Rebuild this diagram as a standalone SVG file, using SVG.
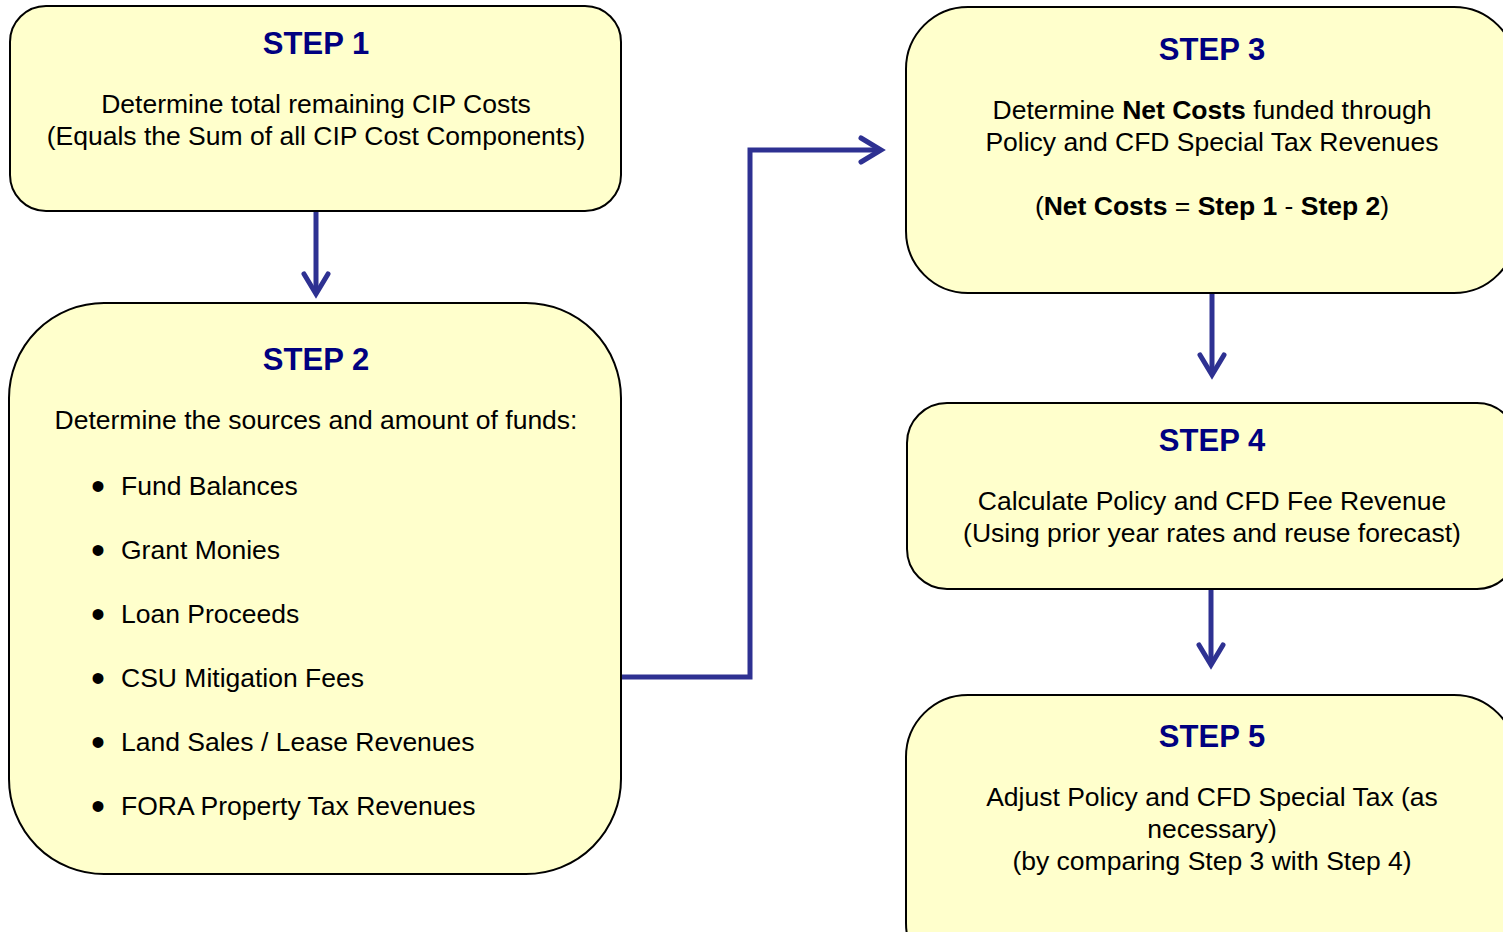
<svg xmlns="http://www.w3.org/2000/svg" width="1503" height="932" viewBox="0 0 1503 932">
<defs>
<style>
.box{fill:#FFFFCC;stroke:#000;stroke-width:2}
.title{font-family:"Liberation Sans",Arial,sans-serif;font-weight:bold;font-size:31px;fill:#000080;text-anchor:middle}
.t{font-family:"Liberation Sans",Arial,sans-serif;font-size:26.5px;fill:#000;text-anchor:middle}
.li{font-family:"Liberation Sans",Arial,sans-serif;font-size:26.5px;fill:#000}
.bul{font-family:"Liberation Sans",Arial,sans-serif;font-size:40px;fill:#000;text-anchor:middle}
.b{font-weight:bold}
.conn{fill:none;stroke:#2E3192;stroke-width:5;stroke-linejoin:miter}
.head{fill:none;stroke:#2E3192;stroke-width:5;stroke-linecap:round;stroke-linejoin:miter}
</style>
<marker id="arrow" markerUnits="userSpaceOnUse" markerWidth="40" markerHeight="40" viewBox="-30 -20 40 40" refX="0" refY="0" orient="auto" overflow="visible">
<path class="head" d="M -20 -12 L 0 0 L -20 12"/>
</marker>
</defs>
<g id="connectors">
<path class="conn" d="M 316 212 L 316 294" marker-end="url(#arrow)"/>
<path class="conn" d="M 622 677 L 750 677 L 750 150 L 881 150" marker-end="url(#arrow)"/>
<path class="conn" d="M 1212 294 L 1212 375" marker-end="url(#arrow)"/>
<path class="conn" d="M 1211 590 L 1211 665" marker-end="url(#arrow)"/>
</g>
<g id="step1">
<rect class="box" x="10" y="6" width="611" height="205" rx="36" ry="36"/>
<text class="title" x="316" y="54">STEP 1</text>
<text class="t" x="316" y="113">Determine total remaining CIP Costs</text>
<text class="t" x="316" y="145">(Equals the Sum of all CIP Cost Components)</text>
</g>
<g id="step2">
<rect class="box" x="9" y="303" width="612" height="571" rx="95" ry="95"/>
<text class="title" x="316" y="370">STEP 2</text>
<text class="t" x="316" y="429">Determine the sources and amount of funds:</text>
<text class="bul" x="98" y="500">•</text><text class="li" x="121" y="495">Fund Balances</text>
<text class="bul" x="98" y="564">•</text><text class="li" x="121" y="559">Grant Monies</text>
<text class="bul" x="98" y="628">•</text><text class="li" x="121" y="623">Loan Proceeds</text>
<text class="bul" x="98" y="692">•</text><text class="li" x="121" y="687">CSU Mitigation Fees</text>
<text class="bul" x="98" y="756">•</text><text class="li" x="121" y="751">Land Sales / Lease Revenues</text>
<text class="bul" x="98" y="820">•</text><text class="li" x="121" y="815">FORA Property Tax Revenues</text>
</g>
<g id="step3">
<rect class="box" x="906" y="7" width="610" height="286" rx="62" ry="62"/>
<text class="title" x="1212" y="60">STEP 3</text>
<text class="t" x="1212" y="119">Determine <tspan class="b">Net Costs</tspan> funded through</text>
<text class="t" x="1212" y="151">Policy and CFD Special Tax Revenues</text>
<text class="t" x="1212" y="215">(<tspan class="b">Net Costs</tspan> = <tspan class="b">Step 1</tspan> - <tspan class="b">Step 2</tspan>)</text>
</g>
<g id="step4">
<rect class="box" x="907" y="403" width="610" height="186" rx="40" ry="40"/>
<text class="title" x="1212" y="451">STEP 4</text>
<text class="t" x="1212" y="510">Calculate Policy and CFD Fee Revenue</text>
<text class="t" x="1212" y="542">(Using prior year rates and reuse forecast)</text>
</g>
<g id="step5">
<rect class="box" x="906" y="695" width="610" height="290" rx="62" ry="62"/>
<text class="title" x="1212" y="747">STEP 5</text>
<text class="t" x="1212" y="806">Adjust Policy and CFD Special Tax (as</text>
<text class="t" x="1212" y="838">necessary)</text>
<text class="t" x="1212" y="870">(by comparing Step 3 with Step 4)</text>
</g>
</svg>
